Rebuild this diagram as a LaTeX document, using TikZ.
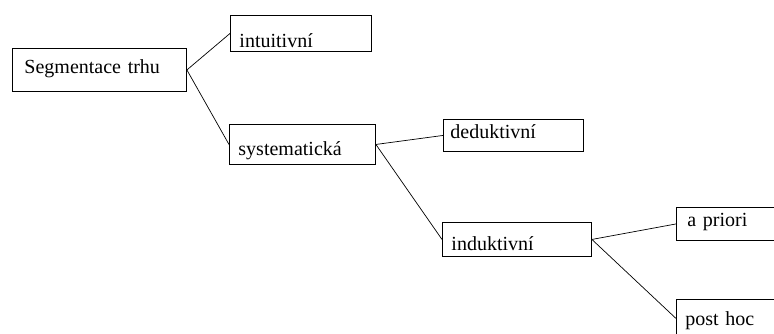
\documentclass[tikz,border=0pt]{standalone}
\usepackage{fontspec}
\setmainfont{Liberation Serif}

\tikzset{
  box/.style={draw, line width=0.9pt, anchor=north west, inner xsep=9pt, inner ysep=0pt,
    align=left, font=\fontsize{20}{24}\selectfont},
  link/.style={line width=0.7pt}
}

\begin{document}
\begin{tikzpicture}[x=1pt, y=-1pt]
\clip (0,0) rectangle (774,334);
\fill[white] (0,0) rectangle (774,334);

% first level
\node[box, inner xsep=12pt, text width=150pt, minimum height=43pt, text height=12pt, text depth=5pt] (seg) at (12,48) {Segmentace trhu};
\node[box, text width=123pt, minimum height=36pt, text height=30pt, text depth=2pt] (intu) at (230,15) {intuitivní};
\node[box, text width=128pt, minimum height=40pt, text height=24pt, text depth=2pt] (syst) at (229,124) {systematická};

% second level
\node[box, inner xsep=7pt, text width=126pt, minimum height=32pt, text height=11pt, text depth=5pt] (dedu) at (443,119) {deduktivní};
\node[box, text width=131pt, minimum height=34pt, text height=24pt, text depth=2pt] (indu) at (442,222) {induktivní};

% third level, cut by the page edge
\node[box, inner xsep=11pt, text width=88pt, minimum height=33pt, text height=11pt, text depth=5pt] (apri) at (676,207) {a priori};
\node[box, text width=92pt, minimum height=38pt, text height=16pt, text depth=2pt] (post) at (676,299) {post hoc};

\draw[link] (seg.east) -- (intu.west);
\draw[link] (seg.east) -- (syst.west);
\draw[link] (syst.east) -- (dedu.west);
\draw[link] (syst.east) -- (indu.west);
\draw[link] (indu.east) -- (apri.west);
\draw[link] (indu.east) -- (post.west);

\end{tikzpicture}
\end{document}
